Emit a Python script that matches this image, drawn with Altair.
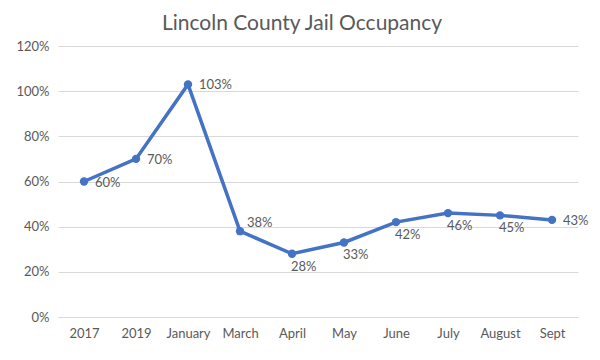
import altair as alt
import pandas as pd

categories = ["2017", "2019", "January", "March", "April", "May", "June", "July", "August", "Sept"]
occupancy = [0.60, 0.70, 1.03, 0.38, 0.28, 0.33, 0.42, 0.46, 0.45, 0.43]
label_side = ["right", "right", "right", "above", "below", "below", "below", "below", "below", "right"]
y_ticks = [0, 0.2, 0.4, 0.6, 0.8, 1.0, 1.2]

df = pd.DataFrame({"cat": categories, "value": occupancy, "side": label_side})

FONT = "Lato"
GREY = "#595959"
BLUE = "#4472C4"

x = alt.X("cat:N", sort=categories, scale=alt.Scale(type="point", padding=0.5),
          axis=alt.Axis(title=None, labelAngle=0, ticks=False, domain=True,
                        domainColor="#d9d9d9", labelPadding=10))
y = alt.Y("value:Q", scale=alt.Scale(domain=[0, 1.2]),
          axis=alt.Axis(title=None, values=y_ticks, format=".0%", ticks=False,
                        domain=False, labelPadding=9, gridColor="#d9d9d9"))

base = alt.Chart(df).encode(x=x, y=y)

line = base.mark_line(color=BLUE, strokeWidth=3.5, point=alt.OverlayMarkDef(filled=True, size=70, color=BLUE))

def labels(side, dx, dy):
    return base.transform_filter(alt.datum.side == side).mark_text(
        align="left", baseline="middle", dx=dx, dy=dy, font=FONT, fontSize=13, color=GREY
    ).encode(text=alt.Text("value:Q", format=".0%"))

chart = alt.layer(
    line,
    labels("right", 11, 1),
    labels("above", 7, -8),
    labels("below", -1, 13),
).properties(
    width=520, height=271,
    autosize=alt.AutoSizeParams(type="none"),
    padding={"left": 50, "top": 38, "right": 14, "bottom": 35},
    title=alt.TitleParams("Lincoln County Jail Occupancy", fontSize=21, font=FONT,
                          fontWeight="normal", color=GREY, anchor="middle", dx=-16, offset=6),
).configure_axis(
    labelFont=FONT, labelFontSize=13, labelColor=GREY
).configure_view(stroke=None)

chart.save("out.html", embed_options={"renderer": "svg", "actions": False})
